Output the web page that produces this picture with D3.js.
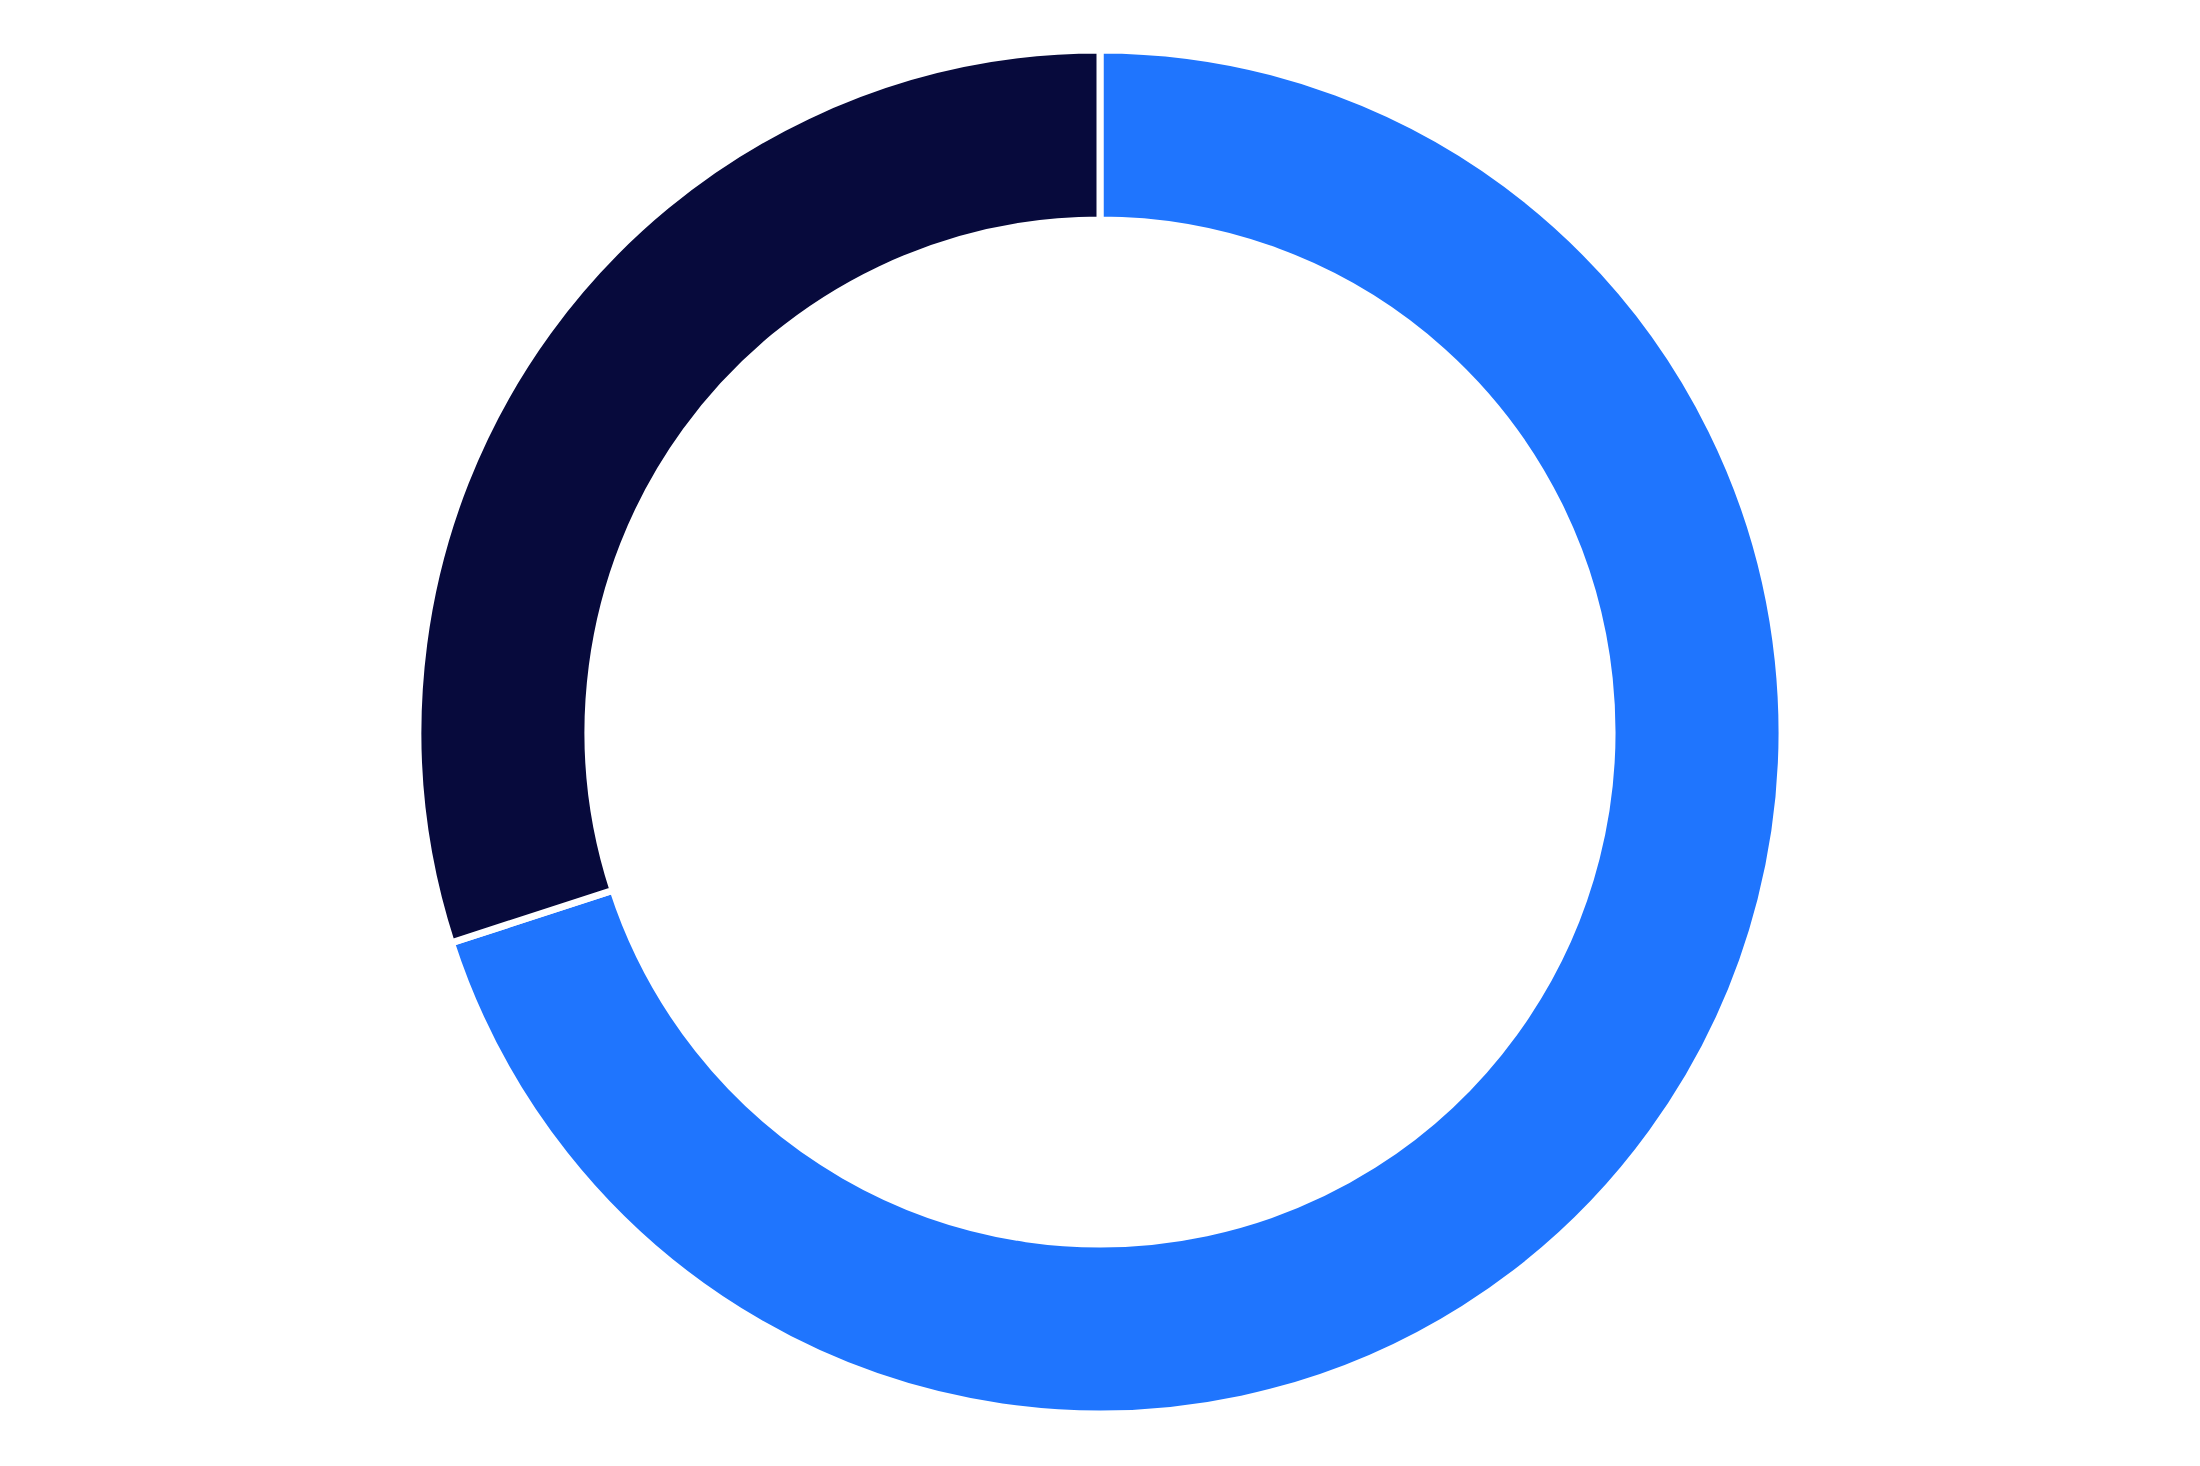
<!DOCTYPE html>
<html>
  <head>
    <style>
      body { margin: 0; background: #fff; }
      svg { display: block; }
    </style>
  </head>
  <body>
    <svg class="chart"></svg>

    <script src="https://d3js.org/d3.v7.min.js"></script>
    <script type="text/javascript">
      const categories = ["A", "B"];
      const values = [70, 30];
      const colors = ["#1f75fe", "#070a3c"];

      (function() {
        const width = 2200;
        const height = 1466;
        const cx = 1100, cy = 732;

        const svg = d3.select('.chart')
          .attr('width', width)
          .attr('height', height);

        const pie = d3.pie().sort(null).value(function(d) { return d; });
        const arc = d3.arc().innerRadius(512).outerRadius(682);

        const g = svg.append('g')
          .attr('transform', 'translate(' + cx + ',' + cy + ')');

        g.selectAll('path')
          .data(pie(values))
          .enter().append('path')
          .attr('d', arc)
          .attr('fill', function(d, i) { return colors[i]; })
          .attr('stroke', '#fff')
          .attr('stroke-width', 7)
          .append('title')
          .text(function(d, i) { return categories[i] + ': ' + d.data; });
      })()
    </script>
  </body>
</html>
